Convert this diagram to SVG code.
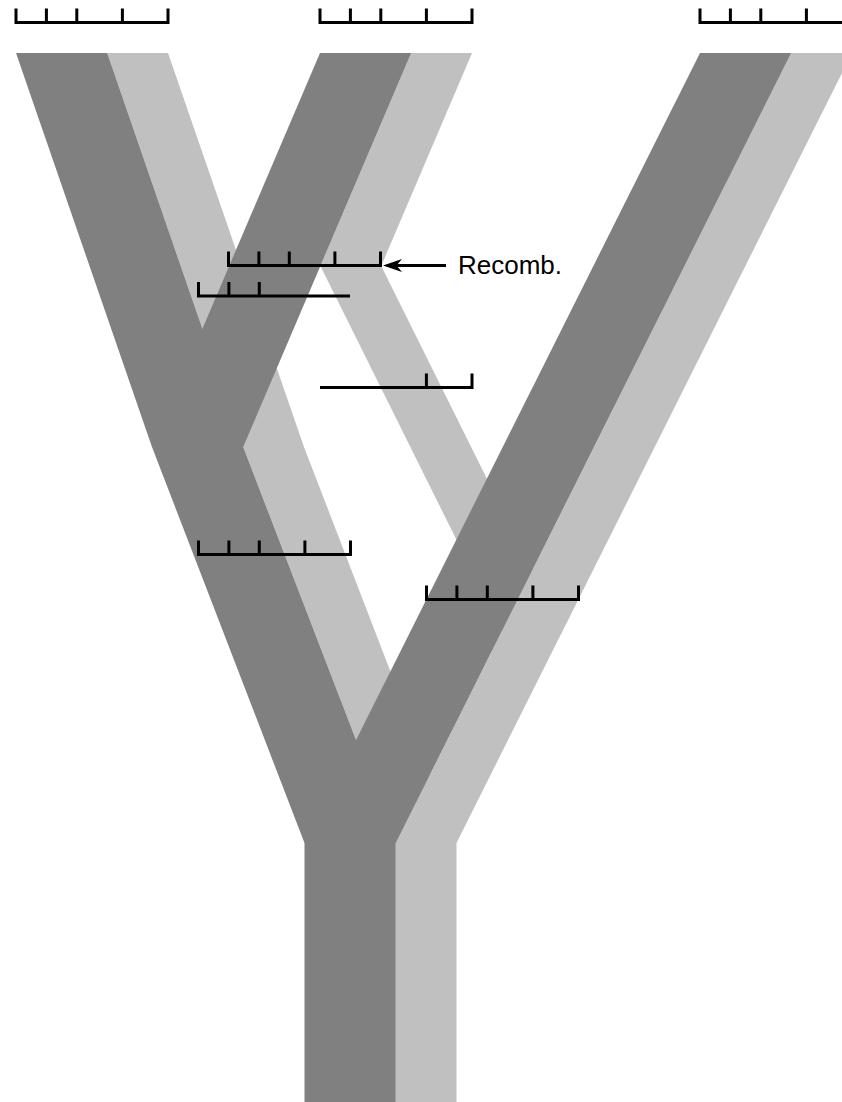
<svg xmlns="http://www.w3.org/2000/svg" width="842" height="1102" viewBox="0 0 842 1102">
  <style>
    .lt { fill: #c0c0c0; stroke: none; }
    .dk { fill: #808080; stroke: none; }
    .bar { fill: none; stroke: #000; stroke-width: 3; stroke-linejoin: miter; stroke-linecap: butt; }
    .lbl { font-family: "Liberation Sans", Arial, sans-serif; font-size: 26px; fill: #000; }
  </style>
  <rect x="0" y="0" width="842" height="1102" fill="#fff"/>
  <g id="lineages">
    <g id="light-parts">
      <polygon class="lt" points="107.2,53 168,53 304,447 243.2,447"/>
      <polygon class="lt" points="243.2,447 304,447 456.5,843 395.7,843"/>
      <polygon class="lt" points="411.2,53 472,53 381.2,266 320.4,266"/>
      <polygon class="lt" points="320.4,266 381.2,266 562.6,631 501.8,631"/>
      <polygon class="lt" points="791.2,53 852,53 562.6,631 501.8,631"/>
      <polygon class="lt" points="501.8,631 562.6,631 456.5,843 395.7,843"/>
      <rect class="lt" x="395.7" y="843" width="60.8" height="259"/>
    </g>
    <g id="dark-parts">
      <polygon class="dk" points="16,53 107.2,53 243.2,447 395.7,843 304.5,843 152,447"/>
      <polygon class="dk" points="320,53 411.2,53 243.2,447 152,447"/>
      <polygon class="dk" points="700,53 791.2,53 395.7,843 304.5,843"/>
      <rect class="dk" x="304.5" y="843" width="91.2" height="259"/>
    </g>
  </g>
  <g id="bars">
    <g id="bar-a-top"><path class="bar" d="M16,8.5 V22.5 H168 V8.5 M46.4,8.5 V22.5 M76.8,8.5 V22.5 M122.4,8.5 V22.5"/></g>
    <g id="bar-b-top"><path class="bar" d="M320,8.5 V22.5 H472 V8.5 M350.4,8.5 V22.5 M380.8,8.5 V22.5 M426.4,8.5 V22.5"/></g>
    <g id="bar-c-top"><path class="bar" d="M700,8.5 V22.5 H852 V8.5 M730.4,8.5 V22.5 M760.8,8.5 V22.5 M806.4,8.5 V22.5"/></g>
    <g id="bar-recomb"><path class="bar" d="M228.5,251.5 V265.5 H380.5 V251.5 M258.9,251.5 V265.5 M289.3,251.5 V265.5 M334.9,251.5 V265.5"/></g>
    <g id="bar-left-part"><path class="bar" d="M198.5,282 V296 H350 M228.9,282 V296 M259.3,282 V296"/></g>
    <g id="bar-right-part"><path class="bar" d="M320,387.5 H472 V373.5 M426.4,373.5 V387.5"/></g>
    <g id="bar-mid-left"><path class="bar" d="M198.5,540.5 V554.5 H350.5 V540.5 M228.9,540.5 V554.5 M259.3,540.5 V554.5 M304.9,540.5 V554.5"/></g>
    <g id="bar-mid-right"><path class="bar" d="M426.5,585.5 V599.5 H578.5 V585.5 M456.9,585.5 V599.5 M487.3,585.5 V599.5 M532.9,585.5 V599.5"/></g>
  </g>
  <g id="connectors">
    <line class="bar" x1="392" y1="265.5" x2="446" y2="265.5"/>
    <path d="M383,265.5 L402,259 L396.5,265.5 L402,272 Z" fill="#000"/>
  </g>
  <g id="recomb-label">
    <text class="lbl" x="458" y="273.5">Recomb.</text>
  </g>
</svg>
